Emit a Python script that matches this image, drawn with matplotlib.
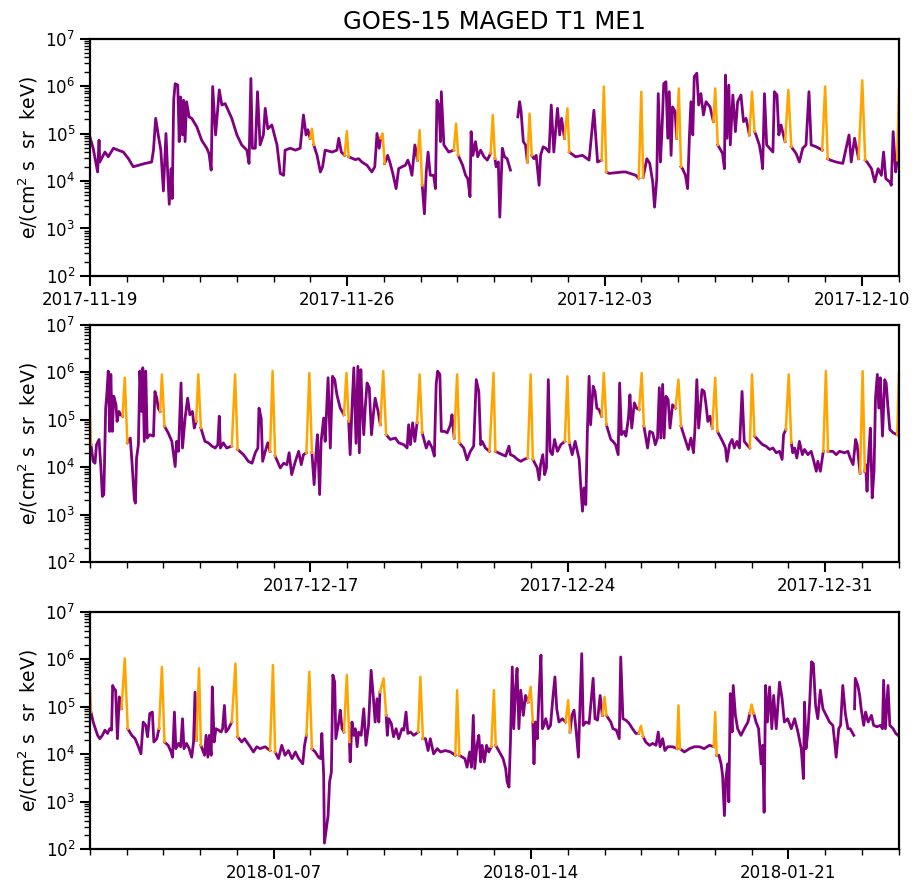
import numpy as np
import matplotlib
matplotlib.use('Agg')
import matplotlib.pyplot as plt
import matplotlib.dates as mdates

# electron flux, log10 values; time in days from the start of each panel
start1 = '2017-11-19'
t1 = [0.00, 0.09, 0.21, 0.25, 0.27, 0.41, 0.50, 0.64, 0.77, 0.91, 1.05, 1.18,
      1.32, 1.50, 1.68, 1.73, 1.79, 1.86, 1.93, 2.00, 2.07, 2.12, 2.16, 2.21,
      2.24, 2.28, 2.32, 2.39, 2.43, 2.47, 2.52, 2.55, 2.59, 2.63, 2.70, 2.77,
      2.91, 3.04, 3.18, 3.24, 3.30, 3.34, 3.42, 3.52, 3.59, 3.68, 3.86, 4.00,
      4.13, 4.27, 4.33, 4.38, 4.42, 4.50, 4.56, 4.63, 4.72, 4.77, 4.84, 4.95,
      5.09, 5.18, 5.27, 5.31, 5.45, 5.59, 5.72, 5.81, 5.88, 5.93, 5.99, 6.04,
      6.09, 6.18, 6.27, 6.33, 6.40, 6.59, 6.72, 6.77, 6.84, 6.93, 6.99, 7.04,
      7.22, 7.31, 7.40, 7.54, 7.67, 7.75, 7.81, 7.87, 7.91, 7.96, 8.02, 8.10,
      8.17, 8.24, 8.33, 8.40, 8.49, 8.58, 8.65, 8.70, 8.76, 8.84, 8.91, 8.97,
      9.04, 9.10, 9.15, 9.20, 9.26, 9.35, 9.40, 9.44, 9.49, 9.54, 9.56, 9.63,
      9.76, 9.90, 9.96, 10.02, 10.14, 10.22, 10.28, 10.34, 10.37, 10.42, 10.49, 10.55,
      10.63, 10.72, 10.81, 10.90, 10.96, 11.02, 11.05, 11.11, 11.15, 11.22, 11.28, 11.35,
      11.44, 11.54, 11.64, 11.69, 11.73, 11.79, 11.85, 11.90, 11.96, 12.02, 12.08, 12.14,
      12.22, 12.26, 12.33, 12.40, 12.49, 12.55, 12.62, 12.72, 12.78, 12.83, 12.91, 12.99,
      13.04, 13.21, 13.40, 13.58, 13.71, 13.81, 13.92, 13.98, 14.05, 14.12, 14.49, 14.58,
      14.85, 14.93, 15.00, 15.05, 15.15, 15.23, 15.31, 15.36, 15.42, 15.46, 15.52, 15.56,
      15.61, 15.67, 15.72, 15.76, 15.81, 15.85, 15.92, 15.96, 16.02, 16.08, 16.12, 16.20,
      16.26, 16.31, 16.35, 16.40, 16.44, 16.51, 16.56, 16.62, 16.69, 16.76, 16.87, 16.96,
      17.01, 17.08, 17.21, 17.26, 17.29, 17.33, 17.38, 17.42, 17.49, 17.56, 17.62, 17.71,
      17.78, 17.85, 17.94, 18.01, 18.08, 18.12, 18.21, 18.26, 18.30, 18.35, 18.41, 18.49,
      18.58, 18.62, 18.69, 18.74, 18.80, 18.91, 19.00, 19.08, 19.21, 19.30, 19.39, 19.48,
      19.56, 19.62, 19.76, 19.92, 20.00, 20.07, 20.14, 20.30, 20.48, 20.57, 20.65, 20.71,
      20.80, 20.91, 21.01, 21.09, 21.14, 21.26, 21.35, 21.44, 21.53, 21.59, 21.65, 21.76,
      21.80, 21.85, 21.92, 21.96, 22.01, 22.06]
v1 = [4.93, 4.69, 4.19, 4.86, 4.40, 4.61, 4.51, 4.69, 4.65, 4.61, 4.47, 4.30,
      4.33, 4.37, 4.40, 4.65, 5.32, 4.97, 4.65, 3.79, 5.00, 4.12, 3.51, 4.26,
      3.63, 5.70, 6.05, 6.02, 4.83, 5.77, 4.97, 5.70, 4.83, 5.67, 5.35, 5.32,
      5.14, 4.86, 4.69, 4.58, 4.23, 5.99, 4.97, 5.92, 5.60, 5.63, 5.32, 4.97,
      4.76, 4.65, 4.37, 6.16, 4.69, 4.69, 5.88, 4.76, 4.97, 5.53, 5.10, 5.18,
      4.76, 4.16, 4.12, 4.65, 4.69, 4.65, 4.69, 5.39, 4.97, 5.08, 4.90, 5.10,
      4.76, 4.54, 4.19, 4.30, 4.65, 4.61, 4.65, 4.90, 4.61, 4.54, 5.05, 4.51,
      4.45, 4.47, 4.40, 4.33, 4.19, 4.30, 5.00, 4.69, 4.90, 5.00, 4.37, 4.54,
      4.37, 4.16, 3.84, 4.26, 4.30, 4.33, 4.44, 4.33, 4.12, 4.76, 4.44, 5.07,
      3.91, 3.31, 4.19, 4.61, 4.12, 4.12, 3.84, 5.70, 5.60, 4.83, 5.88, 4.76,
      4.61, 4.65, 5.21, 4.54, 4.33, 4.12, 4.05, 3.67, 5.04, 4.54, 4.83, 4.51,
      4.65, 4.51, 4.44, 4.58, 5.39, 4.47, 4.30, 4.40, 3.24, 4.69, 4.51, 4.47,
      4.23, np.nan, 5.35, 5.67, 5.46, 4.83, 4.76, 4.40, 5.42, 4.54, 4.47, 4.54,
      3.91, 4.54, 4.72, 4.69, 4.61, 5.60, 4.61, 5.53, 4.97, 5.32, 4.90, 5.53,
      4.61, 4.51, 4.54, 4.44, 5.49, 4.40, 4.44, 5.99, 4.19, 4.16, 4.19, 4.19,
      4.12, 4.05, 5.88, 4.08, 4.47, 4.37, 3.98, 3.45, 4.05, 5.84, 4.40, 5.04,
      6.05, 6.09, 4.90, 5.88, 4.54, 5.56, 5.46, 4.90, 5.95, 4.30, 4.26, 4.12,
      3.84, 4.97, 5.67, 4.97, 6.20, 6.27, 5.60, 5.84, 5.39, 5.67, 5.56, 5.25,
      5.95, 4.76, 4.58, 4.26, 6.23, 4.90, 6.02, 4.76, 5.81, 5.04, 5.67, 5.81,
      5.25, 5.32, 4.97, 5.88, 5.04, 4.97, 4.76, 4.54, 4.26, 5.84, 4.76, 4.69,
      4.61, 5.88, 5.81, 4.97, 5.18, 4.83, 5.92, 4.72, 4.58, 4.40, 4.69, 4.76,
      5.88, 4.76, 4.72, 4.65, 5.99, 4.47, 4.44, 4.40, 4.37, 4.69, 4.97, 4.40,
      4.90, 4.47, 6.12, 4.44, 4.40, 4.26, 3.98, 4.26, 4.12, 4.61, 4.05, 3.98,
      3.91, 5.04, 4.19, 4.44, 5.98, 4.45]
flag1 = [6.04, 6.99, 7.96, 8.97, 9.96, 10.96, 11.96, 12.99, 13.98, 15.00,
         16.02, 17.01, 18.01, 19.00, 20.00, 21.01, 22.01]

start2 = '2017-12-11'
t2 = [-0.06, -0.03, 0.03, 0.09, 0.14, 0.18, 0.25, 0.30, 0.34, 0.38, 0.43, 0.46,
      0.50, 0.54, 0.57, 0.61, 0.65, 0.71, 0.74, 0.79, 0.84, 0.89, 0.95, 1.02,
      1.10, 1.15, 1.21, 1.24, 1.27, 1.32, 1.36, 1.41, 1.44, 1.48, 1.52, 1.56,
      1.63, 1.73, 1.77, 1.82, 1.86, 1.91, 1.96, 2.03, 2.13, 2.23, 2.27, 2.32,
      2.36, 2.41, 2.48, 2.52, 2.59, 2.66, 2.72, 2.79, 2.84, 2.89, 2.95, 3.02,
      3.13, 3.22, 3.32, 3.41, 3.48, 3.52, 3.55, 3.63, 3.72, 3.86, 3.95, 4.02,
      4.18, 4.31, 4.41, 4.50, 4.57, 4.60, 4.66, 4.70, 4.77, 4.84, 4.90, 4.97,
      5.04, 5.18, 5.27, 5.36, 5.42, 5.49, 5.59, 5.68, 5.75, 5.81, 5.89, 5.97,
      6.04, 6.10, 6.15, 6.19, 6.25, 6.29, 6.36, 6.40, 6.48, 6.54, 6.60, 6.66,
      6.72, 6.81, 6.91, 6.98, 7.04, 7.08, 7.13, 7.18, 7.24, 7.29, 7.33, 7.37,
      7.41, 7.45, 7.49, 7.54, 7.60, 7.66, 7.72, 7.76, 7.84, 7.90, 7.98, 8.06,
      8.17, 8.31, 8.40, 8.54, 8.63, 8.67, 8.72, 8.78, 8.84, 8.90, 8.97, 9.04,
      9.15, 9.22, 9.31, 9.37, 9.42, 9.46, 9.52, 9.56, 9.65, 9.72, 9.81, 9.85,
      9.91, 9.99, 10.05, 10.17, 10.26, 10.35, 10.44, 10.51, 10.58, 10.63, 10.67, 10.76,
      10.87, 10.98, 11.03, 11.22, 11.31, 11.40, 11.44, 11.53, 11.63, 11.72, 11.81, 11.91,
      11.99, 12.05, 12.17, 12.22, 12.26, 12.32, 12.37, 12.42, 12.47, 12.52, 12.58, 12.64,
      12.72, 12.81, 12.92, 12.99, 13.04, 13.12, 13.20, 13.26, 13.31, 13.35, 13.40, 13.44,
      13.49, 13.53, 13.58, 13.62, 13.69, 13.74, 13.79, 13.85, 13.92, 13.98, 14.05, 14.17,
      14.23, 14.30, 14.37, 14.41, 14.46, 14.53, 14.58, 14.65, 14.69, 14.74, 14.81, 14.87,
      14.94, 15.01, 15.07, 15.17, 15.23, 15.31, 15.38, 15.44, 15.49, 15.53, 15.58, 15.62,
      15.67, 15.73, 15.78, 15.85, 15.93, 16.01, 16.08, 16.21, 16.28, 16.35, 16.42, 16.46,
      16.51, 16.56, 16.65, 16.71, 16.76, 16.81, 16.87, 16.93, 17.01, 17.07, 17.21, 17.29,
      17.33, 17.40, 17.47, 17.53, 17.60, 17.67, 17.74, 17.80, 17.87, 17.95, 18.01, 18.08,
      18.21, 18.30, 18.39, 18.49, 18.58, 18.67, 18.76, 18.83, 18.87, 18.93, 19.01, 19.08,
      19.12, 19.17, 19.23, 19.30, 19.38, 19.44, 19.53, 19.62, 19.68, 19.76, 19.80, 19.87,
      19.95, 20.02, 20.08, 20.21, 20.30, 20.39, 20.53, 20.62, 20.68, 20.76, 20.83, 20.87,
      20.95, 21.02, 21.08, 21.10, 21.14, 21.18, 21.23, 21.28, 21.33, 21.37, 21.42, 21.46,
      21.50, 21.56, 21.62, 21.66, 21.71, 21.76, 21.85, 21.96, 22.01, 22.06]
v2 = [4.45, 5.95, 4.47, 4.12, 4.08, 4.47, 4.58, 3.98, 3.38, 3.42, 5.24, 5.52,
      6.02, 4.75, 5.95, 4.75, 5.49, 5.31, 4.96, 5.17, 5.10, 5.07, 5.88, 4.51,
      4.61, 4.05, 3.31, 3.24, 4.19, 4.47, 6.02, 5.17, 6.09, 4.54, 6.02, 4.61,
      4.68, 4.65, 5.59, 5.45, 5.24, 5.17, 5.95, 4.86, 4.72, 4.54, 4.30, 4.01,
      4.54, 4.33, 5.77, 4.40, 5.03, 5.45, 5.10, 5.17, 4.82, 4.96, 5.95, 4.82,
      4.54, 4.51, 4.44, 4.40, 4.47, 5.07, 4.40, 4.51, 4.40, 4.44, 5.95, 4.37,
      4.26, 4.12, 4.08, 4.30, 4.40, 5.24, 5.03, 4.12, 4.33, 4.51, 4.33, 6.02,
      4.23, 3.98, 4.08, 4.05, 4.30, 3.84, 4.12, 4.33, 4.05, 4.26, 4.30, 5.98,
      4.30, 3.63, 4.26, 4.68, 3.42, 4.54, 5.03, 4.54, 5.88, 4.40, 5.91, 5.84,
      5.52, 5.24, 5.10, 5.98, 4.96, 4.26, 5.24, 6.09, 4.50, 6.12, 4.30, 6.05,
      5.24, 4.68, 5.24, 5.77, 5.67, 4.68, 5.17, 5.45, 5.17, 4.89, 6.02, 4.68,
      4.58, 4.61, 4.51, 4.47, 4.40, 4.89, 4.47, 4.93, 4.54, 4.93, 5.95, 4.72,
      4.40, 4.54, 4.40, 4.23, 5.74, 6.02, 5.95, 4.75, 4.75, 4.72, 4.89, 5.10,
      4.61, 5.95, 4.51, 4.40, 4.15, 4.33, 4.44, 5.84, 5.59, 4.47, 4.54, 4.40,
      4.33, 5.98, 4.33, 4.26, 4.23, 4.44, 4.26, 4.23, 4.16, 4.12, 4.16, 4.19,
      5.95, 4.16, 3.98, 3.73, 4.05, 4.26, 3.84, 3.98, 5.84, 4.33, 4.26, 4.58,
      4.33, 4.47, 4.54, 5.91, 4.51, 4.26, 4.54, 4.33, 4.16, 3.63, 3.07, 3.56,
      3.21, 4.68, 5.91, 4.89, 5.70, 5.59, 5.24, 5.21, 5.07, 5.98, 4.89, 4.58,
      4.54, 4.47, 4.26, 5.77, 4.68, 4.75, 4.65, 5.03, 5.52, 4.82, 5.35, 5.24,
      5.21, 5.98, 4.86, 4.40, 4.75, 4.72, 4.47, 4.61, 5.67, 4.61, 5.74, 4.61,
      5.49, 5.42, 4.82, 5.31, 5.24, 5.84, 4.86, 4.54, 4.37, 4.61, 4.30, 4.82,
      5.84, 4.82, 5.63, 5.59, 5.31, 4.96, 5.07, 4.82, 5.88, 4.75, 4.54, 4.40,
      4.12, 4.47, 4.58, 4.40, 4.54, 4.40, 5.59, 4.54, 4.47, 4.40, 5.95, 4.65,
      4.54, 4.47, 4.44, 4.37, 4.40, 4.30, 4.33, 4.16, 4.68, 4.79, 5.95, 4.51,
      4.30, 4.40, 4.19, 4.54, 4.26, 4.37, 4.26, 4.33, 4.16, 3.91, 4.12, 3.91,
      4.33, 6.02, 4.33, 4.33, 4.26, 4.33, 4.30, 4.33, 4.19, 4.05, 4.58, 4.47,
      3.87, 6.02, 3.91, 4.05, 3.49, 4.19, 4.82, 3.35, 3.91, 5.45, 5.95, 5.24,
      5.88, 4.65, 5.84, 5.77, 5.24, 4.79, 4.72, 4.68, 6.02, 4.60]
flag2 = [-0.03, 0.95, 1.96, 2.95, 3.95, 4.97, 5.97, 6.98, 7.98, 8.97, 9.99, 10.98,
         11.99, 12.99, 13.98, 15.01, 16.01, 17.01, 18.01, 19.01, 20.02, 21.02, 22.01]

start3 = '2018-01-02'
t3 = [-0.08, -0.03, 0.03, 0.09, 0.15, 0.21, 0.27, 0.34, 0.41, 0.48, 0.54, 0.59,
      0.62, 0.66, 0.70, 0.75, 0.80, 0.86, 0.95, 1.03, 1.14, 1.23, 1.32, 1.39,
      1.45, 1.52, 1.57, 1.63, 1.70, 1.74, 1.82, 1.88, 1.96, 2.03, 2.13, 2.21,
      2.25, 2.30, 2.34, 2.41, 2.47, 2.52, 2.56, 2.63, 2.70, 2.77, 2.82, 2.86,
      2.90, 2.97, 3.02, 3.12, 3.16, 3.21, 3.25, 3.30, 3.33, 3.38, 3.43, 3.50,
      3.57, 3.61, 3.66, 3.70, 3.77, 3.86, 3.96, 4.02, 4.13, 4.21, 4.27, 4.36,
      4.45, 4.54, 4.63, 4.77, 4.90, 4.98, 5.04, 5.13, 5.22, 5.31, 5.40, 5.50,
      5.59, 5.68, 5.79, 5.84, 5.89, 5.97, 6.04, 6.13, 6.22, 6.28, 6.31, 6.36,
      6.38, 6.48, 6.52, 6.57, 6.61, 6.66, 6.69, 6.77, 6.81, 6.86, 6.91, 6.99,
      7.06, 7.08, 7.13, 7.18, 7.22, 7.27, 7.31, 7.38, 7.45, 7.51, 7.58, 7.65,
      7.70, 7.76, 7.81, 7.86, 7.89, 7.99, 8.06, 8.09, 8.13, 8.20, 8.26, 8.33,
      8.40, 8.49, 8.54, 8.60, 8.65, 8.72, 8.81, 8.93, 8.99, 9.06, 9.13, 9.20,
      9.26, 9.35, 9.45, 9.54, 9.67, 9.81, 9.94, 9.99, 10.05, 10.20, 10.26, 10.33,
      10.38, 10.43, 10.47, 10.53, 10.58, 10.63, 10.67, 10.73, 10.79, 10.85, 10.92, 10.99,
      11.04, 11.17, 11.24, 11.31, 11.35, 11.40, 11.44, 11.49, 11.53, 11.58, 11.62, 11.67,
      11.72, 11.79, 11.85, 11.92, 11.99, 12.05, 12.08, 12.12, 12.17, 12.22, 12.27, 12.31,
      12.35, 12.40, 12.47, 12.53, 12.60, 12.65, 12.70, 12.76, 12.85, 12.94, 13.01, 13.06,
      13.11, 13.17, 13.23, 13.29, 13.32, 13.38, 13.42, 13.49, 13.58, 13.69, 13.74, 13.81,
      13.88, 13.94, 14.00, 14.05, 14.17, 14.23, 14.32, 14.40, 14.44, 14.50, 14.58, 14.67,
      14.76, 14.85, 14.93, 14.99, 15.05, 15.12, 15.22, 15.31, 15.40, 15.46, 15.51, 15.58,
      15.64, 15.72, 15.85, 15.97, 16.01, 16.05, 16.17, 16.31, 16.44, 16.58, 16.71, 16.85,
      16.97, 17.01, 17.05, 17.11, 17.17, 17.21, 17.26, 17.30, 17.35, 17.38, 17.42, 17.47,
      17.50, 17.56, 17.62, 17.71, 17.80, 17.90, 17.95, 18.00, 18.06, 18.12, 18.19, 18.26,
      18.30, 18.34, 18.38, 18.43, 18.49, 18.55, 18.60, 18.67, 18.76, 18.83, 18.89, 18.98,
      19.08, 19.17, 19.26, 19.35, 19.41, 19.44, 19.48, 19.53, 19.58, 19.63, 19.68, 19.74,
      19.80, 19.87, 19.94, 20.03, 20.12, 20.21, 20.26, 20.30, 20.37, 20.42, 20.48, 20.55,
      20.62, 20.68, 20.78, 20.79, 20.80, 20.82, 20.89, 20.94, 20.98, 21.05, 21.10, 21.17,
      21.26, 21.32, 21.41, 21.50, 21.56, 21.59, 21.64, 21.71, 21.76, 21.85, 21.92, 21.98, 22.03]
v3 = [4.70, 6.00, 4.89, 4.68, 4.54, 4.40, 4.33, 4.40, 4.51, 4.44, 4.54, 4.51,
      5.45, 5.38, 5.35, 4.33, 5.21, 4.96, 6.02, 4.54, 4.40, 4.33, 4.16, 4.01,
      4.68, 4.61, 4.37, 4.86, 4.89, 4.26, 4.33, 4.54, 5.84, 4.26, 4.19, 4.05,
      3.94, 4.89, 4.12, 4.23, 4.16, 4.75, 4.12, 4.23, 4.12, 3.94, 4.26, 5.31,
      4.30, 5.81, 4.19, 3.98, 4.40, 3.94, 4.40, 3.98, 5.42, 4.26, 4.54, 4.51,
      4.47, 4.54, 5.03, 4.47, 4.54, 4.68, 5.91, 4.37, 4.26, 4.33, 4.26, 4.16,
      4.05, 4.16, 4.12, 4.16, 4.08, 5.88, 4.05, 3.91, 4.19, 3.98, 4.08, 3.91,
      4.05, 3.91, 3.80, 4.19, 4.40, 5.74, 4.12, 4.05, 3.94, 3.91, 4.44, 3.56,
      2.13, 2.71, 3.42, 3.63, 5.67, 5.52, 4.33, 4.68, 4.93, 4.54, 4.47, 5.67,
      4.26, 3.84, 4.68, 4.40, 4.54, 4.16, 4.47, 4.40, 4.96, 4.19, 4.61, 5.77,
      5.31, 4.68, 5.17, 4.68, 5.31, 5.60, 4.82, 4.40, 4.75, 4.65, 4.37, 4.54,
      4.33, 4.54, 4.51, 4.89, 4.44, 4.47, 4.40, 4.47, 5.63, 4.33, 4.33, 4.08,
      4.33, 4.01, 4.12, 4.05, 4.08, 4.05, 3.98, 5.35, 3.98, 3.91, 3.73, 4.05,
      3.73, 4.82, 3.70, 4.19, 4.40, 3.84, 4.19, 3.84, 4.19, 4.05, 4.16, 5.35,
      4.19, 4.01, 3.91, 3.70, 3.42, 3.31, 4.26, 5.84, 4.54, 5.38, 5.81, 4.54,
      5.35, 4.82, 5.24, 5.10, 5.42, 4.68, 3.80, 4.68, 4.33, 5.31, 6.09, 4.54,
      4.61, 4.75, 4.54, 4.61, 5.24, 5.63, 4.96, 4.68, 4.75, 4.68, 5.14, 4.47,
      4.82, 4.93, 4.47, 3.94, 4.75, 6.12, 4.61, 4.68, 4.65, 5.60, 4.75, 4.72,
      5.24, 4.82, 5.21, 4.82, 4.68, 4.54, 4.51, 4.33, 6.05, 4.75, 4.72, 4.65,
      4.54, 4.44, 4.44, 4.60, 4.37, 4.26, 4.19, 4.23, 4.19, 4.47, 4.16, 4.33,
      4.08, 4.16, 4.16, 4.12, 5.03, 4.12, 4.05, 4.12, 4.16, 4.16, 4.12, 4.19,
      4.16, 4.89, 3.98, 3.98, 3.80, 3.56, 2.71, 3.49, 3.80, 3.00, 5.28, 4.47,
      5.45, 4.82, 4.54, 4.40, 4.54, 4.68, 4.86, 5.05, 4.86, 4.68, 4.54, 3.80,
      4.19, 2.78, 5.45, 4.68, 5.42, 4.54, 5.24, 4.54, 5.52, 5.17, 4.68, 4.75,
      4.54, 4.75, 4.47, 4.12, 3.49, 5.10, 4.12, 4.47, 5.10, 5.95, 5.91, 5.03,
      4.75, 5.35, 4.96, 4.82, 4.68, 4.61, 4.26, 3.94, 4.54, 4.61, 5.45, 4.86,
      4.54, 4.54, 4.40, np.nan, 4.96, 5.60, 5.45, 5.24, 4.96, 4.61, 4.89, 4.68,
      4.82, 4.61, 4.58, 4.61, 4.54, 5.56, 4.54, 5.45, 4.61, 4.54, 4.44, 4.40, 4.47]
flag3 = [-0.03, 0.95, 1.96, 2.97, 3.96, 4.98, 5.97, 6.99, 7.99, 8.99, 9.99, 10.99,
         11.99, 13.01, 14.00, 14.99, 16.01, 17.01, 18.00]

panels = [(start1, t1, v1, flag1), (start2, t2, v2, flag2), (start3, t3, v3, flag3)]
bottoms = [0.6885, 0.3657, 0.0414]

fig = plt.figure(figsize=(9.17, 8.86), dpi=100)

for k, (start, t, v, flags) in enumerate(panels):
    ax = fig.add_axes([0.098, bottoms[k], 0.882, 0.268])
    x0 = mdates.date2num(np.datetime64(start))
    t = np.array(t)
    x = x0 + t
    flux = 10 ** np.array(v)
    flagged = np.isin(t, flags)
    # normal samples in purple, flagged intervals in orange
    ax.plot(x, np.where(flagged, np.nan, flux), color='purple', lw=2.0)
    for i in np.where(flagged)[0]:
        a = max(i - 1, 0)
        ax.plot(x[a:i + 2], flux[a:i + 2], color='orange', lw=1.8)

    ax.set_yscale('log')
    ax.set_ylim(1e2, 1e7)
    ax.set_xlim(x0, x0 + 22)
    ax.xaxis_date()
    ax.xaxis.set_major_locator(mdates.WeekdayLocator(byweekday=mdates.SU))
    ax.xaxis.set_minor_locator(mdates.DayLocator())
    ax.xaxis.set_major_formatter(mdates.DateFormatter('%Y-%m-%d'))
    ax.set_ylabel('e/(cm$^2$ s  sr  keV)', fontsize=13.5)
    ax.tick_params(which='major', length=7, width=1.5, labelsize=12)
    ax.tick_params(which='minor', length=4, width=1.0)
    for s in ax.spines.values():
        s.set_linewidth(1.6)
    if k == 0:
        ax.set_title('GOES-15 MAGED T1 ME1', fontsize=17.5, pad=7)

fig.savefig('out.png', dpi=100)
